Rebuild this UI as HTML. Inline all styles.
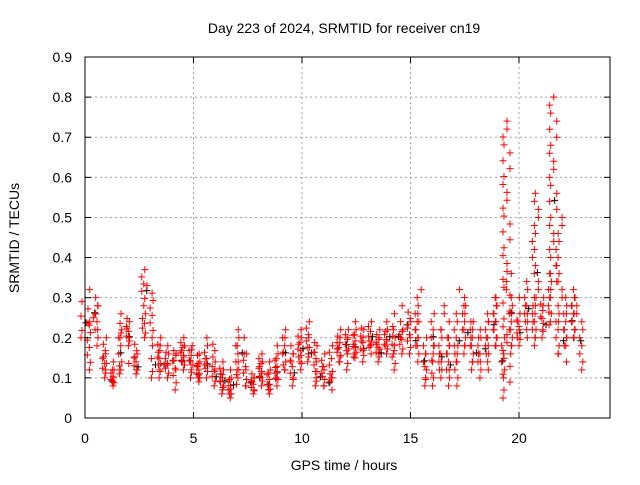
<!DOCTYPE html>
<html><head><meta charset="utf-8"><style>
body{margin:0;background:#fff;font-family:"Liberation Sans",sans-serif}
svg text{font-family:"Liberation Sans",sans-serif;font-size:14px;fill:#000}
</style></head><body>
<svg id="chart" width="640" height="480" viewBox="0 0 640 480" xmlns="http://www.w3.org/2000/svg">
<rect width="640" height="480" fill="#fff"/>
<text x="344" y="33" text-anchor="middle">Day 223 of 2024, SRMTID for receiver cn19</text>
<g id="grid"></g>
<g id="marks"></g>
<rect x="85" y="57" width="525" height="361" fill="none" stroke="#000" stroke-width="1"/>
<g id="ticks"></g>
<text x="344" y="470" text-anchor="middle">GPS time / hours</text>
<text x="19" y="238" text-anchor="middle" transform="rotate(-90 19 238)">SRMTID / TECUs</text>
</svg>
<script>
const xTicks=[0,5,10,15,20];
const yTicks=[0,0.1,0.2,0.3,0.4,0.5,0.6,0.7,0.8,0.9];
const t0=0, dt=0.2;
const hiVals=[0.29,0.25,0.32,0.28,0.20,0.16,0.12,0.14,0.22,0.26,0.24,0.20,0.16,0.26,0.37,0.33,0.18,0.20,0.18,0.16,0.18,0.16,0.18,0.20,0.18,0.17,0.14,0.16,0.18,0.20,0.14,0.12,0.14,0.10,0.12,0.20,0.22,0.16,0.12,0.10,0.14,0.16,0.12,0.14,0.16,0.18,0.22,0.20,0.16,0.20,0.22,0.24,0.20,0.18,0.14,0.16,0.12,0.18,0.22,0.20,0.22,0.20,0.22,0.24,0.22,0.20,0.24,0.22,0.20,0.22,0.24,0.20,0.26,0.22,0.28,0.24,0.26,0.32,0.20,0.16,0.26,0.18,0.22,0.28,0.20,0.18,0.26,0.32,0.28,0.24,0.22,0.20,0.24,0.26,0.30,0.30,0.20,0.74,0.36,0.26,0.26,0.30,0.34,0.30,0.56,0.30,0.28,0.36,0.80,0.50,0.26,0.30,0.30,0.32,0.28];
const loVals=[0.20,0.12,0.22,0.18,0.12,0.10,0.08,0.09,0.12,0.20,0.18,0.12,0.11,0.20,0.28,0.20,0.10,0.12,0.10,0.10,0.12,0.07,0.12,0.14,0.12,0.10,0.09,0.10,0.10,0.12,0.08,0.07,0.06,0.05,0.06,0.10,0.12,0.08,0.07,0.06,0.08,0.10,0.06,0.07,0.08,0.10,0.12,0.10,0.08,0.12,0.14,0.16,0.14,0.10,0.08,0.08,0.07,0.10,0.14,0.14,0.16,0.12,0.15,0.16,0.14,0.16,0.18,0.16,0.14,0.16,0.18,0.12,0.16,0.16,0.20,0.16,0.14,0.18,0.10,0.08,0.16,0.08,0.10,0.12,0.08,0.08,0.14,0.18,0.16,0.14,0.12,0.10,0.12,0.14,0.18,0.18,0.10,0.05,0.18,0.16,0.18,0.20,0.22,0.20,0.18,0.22,0.20,0.24,0.30,0.16,0.14,0.18,0.20,0.20,0.12];
const NS="http://www.w3.org/2000/svg";
const X=v=>85+v*21.7, Y=v=>418-v*401.1;
const grid=document.getElementById('grid'), ticks=document.getElementById('ticks'), marks=document.getElementById('marks');
function ln(p,x1,y1,x2,y2,st,dash){const l=document.createElementNS(NS,'line');l.setAttribute('x1',x1);l.setAttribute('y1',y1);l.setAttribute('x2',x2);l.setAttribute('y2',y2);l.setAttribute('stroke',st);l.setAttribute('stroke-width',1);if(dash)l.setAttribute('stroke-dasharray',dash);p.appendChild(l);return l;}
function tx(x,y,s,a){const t=document.createElementNS(NS,'text');t.setAttribute('x',x);t.setAttribute('y',y);t.setAttribute('text-anchor',a);t.textContent=s;ticks.appendChild(t);return t;}
xTicks.forEach(v=>{const x=X(v);
 const g=ln(grid,x,57,x,418,'#a0a0a0','2,3');
 
 
 ln(ticks,x,418,x,412,'#000');ln(ticks,x,57,x,63,'#000');
 const t=tx(x,443,String(v),'middle');
 
 });
yTicks.forEach(v=>{const y=Y(v);
 const g=ln(grid,85,y,610,y,'#a0a0a0','2,3');
 
 
 ln(ticks,85,y,91,y,'#000');ln(ticks,610,y,604,y,'#000');
 const t=tx(72,y+5,String(v),'end');
 
 });
function plus(x,y,c){const p=document.createElementNS(NS,'path');p.setAttribute('d',`M${x-3.5},${y}h7M${x},${y-3.5}v7`);p.setAttribute('stroke',c);p.setAttribute('stroke-width',1);
 
 
 marks.appendChild(p);}
hiVals.forEach((h,i)=>{const t=t0+i*dt, l=loVals[i], x=X(t);
 if(i%2===0) plus(x+1,Y((h+l)/2)+3,'#000');
 const n=Math.max(5,Math.round((h-l)*50));
 for(let k=0;k<=n;k++){const f=k/n; const dx=((k*k*7+i*13+k*3)%9)-4;
  plus(x+dx,Y(l+(h-l)*f),'red');}
});
</script>
</body></html>
